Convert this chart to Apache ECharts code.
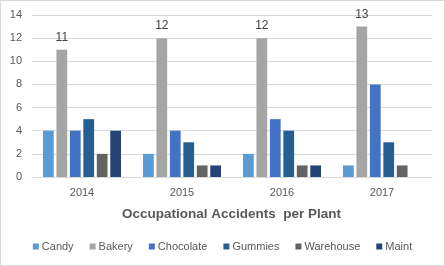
<!DOCTYPE html>
<html><head><meta charset="utf-8">
<script src="https://cdn.jsdelivr.net/npm/echarts@6/dist/echarts.min.js"></script>
<style>html,body{margin:0;padding:0;background:#fff}#c{width:443px;height:264px;border:1px solid #d9d9d9}</style>
</head><body><div id="c"></div>
<script>
const categories = ['2014','2015','2016','2017'];
const seriesNames = ['Candy','Bakery','Chocolate','Gummies','Warehouse','Maint'];
const candy = [4,2,2,1];
const bakery = [11,12,12,13];
const chocolate = [4,4,5,8];
const gummies = [5,3,4,3];
const warehouse = [2,1,1,1];
const maint = [4,1,1,0];
const yTicks = [0,2,4,6,8,10,12,14];
const colors = ['#5B9BD5','#A5A5A5','#4472C4','#255E91','#636363','#264478'];
const values = [candy,bakery,chocolate,gummies,warehouse,maint];
const font = 'Liberation Sans, Arial, sans-serif';
const chart = echarts.init(document.getElementById('c'));
chart.setOption({
  animation:false,
  textStyle:{fontFamily:font},
  grid:{left:31,right:12,top:14,bottom:88,containLabel:false},
  title:{text:'Occupational Accidents  per Plant',top:201,left:116,
    textStyle:{fontSize:13.5,fontWeight:'bold',color:'#595959',fontFamily:font}},
  legend:{bottom:8,left:'center',itemWidth:6,itemHeight:6,itemGap:16,icon:'rect',
    textStyle:{fontSize:11,color:'#595959',fontFamily:font,padding:[0,0,0,-2]},
    data:seriesNames},
  xAxis:{type:'category',data:categories,
    axisLine:{lineStyle:{color:'#d9d9d9'}},axisTick:{show:false},
    axisLabel:{color:'#595959',fontSize:11,margin:10}},
  yAxis:{type:'value',min:0,max:14,interval:2,
    axisLine:{show:false},axisTick:{show:false},
    splitLine:{lineStyle:{color:'#d9d9d9'}},
    axisLabel:{color:'#595959',fontSize:11,margin:10}},
  series:values.map((v,i)=>({
    name:seriesNames[i],type:'bar',data:v,barGap:'25%',barCategoryGap:'22%',
    itemStyle:{color:colors[i]},
    label:{show:i===1,position:'top',color:'#404040',fontSize:12,distance:6}
  }))
});
</script></body></html>
